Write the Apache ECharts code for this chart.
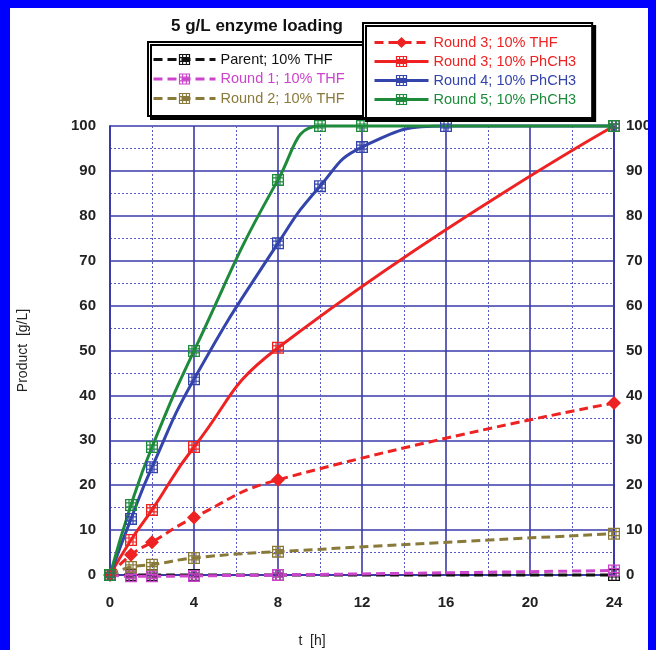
<!DOCTYPE html>
<html><head><meta charset="utf-8">
<script src="https://cdn.jsdelivr.net/npm/echarts@6/dist/echarts.min.js"></script>
<style>html,body{margin:0;padding:0;background:#fff}#c{width:656px;height:650px}</style>
</head><body><div id="c"></div>
<script>
// ---- data ----
const tShort = [0, 1, 2, 4, 8, 24];
const tRound4 = [0, 1, 2, 4, 8, 10, 12, 16, 24];
const tRound5 = [0, 1, 2, 4, 8, 10, 12, 24];
const parent = [0, 0, 0, 0, 0, 0];
const round1 = [0, -0.3, -0.3, -0.2, 0, 1];
const round2 = [0, 1.8, 2.3, 3.8, 5.2, 9.2];
const round3THF = [0, 4.5, 7.3, 12.8, 21.2, 38.3];
const round3Ph = [0, 7.8, 14.5, 28.5, 50.6, 100];
const round4 = [0, 12.5, 24, 43.6, 73.9, 86.6, 95.3, 100, 100];
const round5 = [0, 15.6, 28.5, 49.9, 88, 100, 100, 100];
const xTicks = [0, 4, 8, 12, 16, 20, 24];
const yTicks = [0, 10, 20, 30, 40, 50, 60, 70, 80, 90, 100];
const names = ['Parent; 10% THF', 'Round 1; 10% THF', 'Round 2; 10% THF',
  'Round 3; 10% THF', 'Round 3; 10% PhCH3', 'Round 4; 10% PhCH3', 'Round 5; 10% PhCH3'];
const colors = ['#111111', '#cc44cc', '#8a7a3a', '#ee2222', '#ee2222', '#3344aa', '#1e8a3c'];

const pair = (t, v) => t.map((x, i) => [x, v[i]]);
const hashSym = 'path://M0 0H12V1.3H0Z M0 10.7H12V12H0Z M0 0H1.3V12H0Z M10.7 0H12V12H10.7Z M3.4 0H4.6V12H3.4Z M7.4 0H8.6V12H7.4Z M0 3.4H12V4.6H0Z M0 7.4H12V8.6H0Z';
const FONT = 'Liberation Sans, Arial, sans-serif';

function mk(i, t, v, dashed, symbol, size) {
  return {
    name: names[i], type: 'line', data: pair(t, v), smooth: 0.5,
    symbol: symbol, symbolSize: size, showAllSymbol: true, clip: false,
    lineStyle: { color: colors[i], width: 3, type: dashed ? [9, 5] : 'solid' },
    itemStyle: { color: colors[i] },
    emphasis: { disabled: true }
  };
}

const series = [
  mk(0, tShort, parent, true, hashSym, 12),
  mk(1, tShort, round1, true, hashSym, 12),
  mk(2, tShort, round2, true, hashSym, 12),
  mk(3, tShort, round3THF, true, 'diamond', 14),
  mk(4, tShort, round3Ph, false, hashSym, 12),
  mk(5, tRound4, round4, false, hashSym, 12),
  mk(6, tRound5, round5, false, hashSym, 12)
];

const legendBase = {
  orient: 'vertical', itemHeight: 14, selectedMode: false,
  borderColor: '#000', borderWidth: 2, backgroundColor: '#fff',
  shadowColor: '#000', shadowOffsetX: 3, shadowOffsetY: 3, shadowBlur: 0,
  lineStyle: { width: 3 },
  textStyle: { fontSize: 14.5, fontFamily: FONT }
};

const chart = echarts.init(document.getElementById('c'), null, { renderer: 'canvas' });
chart.setOption({
  animation: false,
  backgroundColor: '#fff',
  title: { text: '5 g/L enzyme loading', left: 166, top: 13,
    textStyle: { fontSize: 17, fontWeight: 'bold', color: '#111', fontFamily: FONT } },
  legend: [
    Object.assign({}, legendBase, {
      left: 148, top: 42, itemWidth: 62, itemGap: 4.5, padding: [10, 60, 10, 4], z: 5,
      data: [0, 1, 2].map(i => ({ name: names[i], textStyle: { color: colors[i] } }))
    }),
    Object.assign({}, legendBase, {
      left: 363, top: 23, itemWidth: 54, itemGap: 4, padding: [12, 16, 11, 10], z: 6,
      data: [3, 4, 5, 6].map(i => ({ name: names[i], textStyle: { color: colors[i] } }))
    })
  ],
  grid: { left: 110, right: 42, top: 126, bottom: 75, containLabel: false, outerBoundsMode: 'none' },
  xAxis: {
    type: 'value', min: 0, max: 24, interval: 4,
    name: 't  [h]', nameLocation: 'middle', nameGap: 59,
    nameTextStyle: { fontSize: 14, color: '#222', fontFamily: FONT, padding: [0, 100, 0, 0] },
    axisLine: { show: true, lineStyle: { color: '#3a3aaa', width: 2 } },
    axisTick: { show: false },
    axisLabel: { margin: 20, fontSize: 15, fontWeight: 'bold', color: '#222', fontFamily: FONT,
      formatter: v => xTicks.includes(v) ? String(v) : '' },
    splitLine: { show: true, lineStyle: { color: '#3a3aaa', width: 1.6 } },
    minorTick: { show: false, splitNumber: 2 },
    minorSplitLine: { show: true, lineStyle: { color: '#5a5ac8', width: 1, type: [2, 2] } }
  },
  yAxis: [
    {
      type: 'value', min: 0, max: 100, interval: 10, position: 'left',
      name: 'Product  [g/L]', nameLocation: 'middle', nameGap: 80,
      nameTextStyle: { fontSize: 14, color: '#222', fontFamily: FONT },
      axisLine: { show: true, lineStyle: { color: '#3a3aaa', width: 2 } },
      axisTick: { show: false },
      axisLabel: { margin: 14, fontSize: 15, fontWeight: 'bold', color: '#222', fontFamily: FONT,
        formatter: v => yTicks.includes(v) ? String(v) : '' },
      splitLine: { show: true, lineStyle: { color: '#3a3aaa', width: 1.6 } },
      minorTick: { show: false, splitNumber: 2 },
      minorSplitLine: { show: true, lineStyle: { color: '#5a5ac8', width: 1, type: [2, 2] } }
    },
    {
      type: 'value', min: 0, max: 100, interval: 10, position: 'right',
      axisLine: { show: true, lineStyle: { color: '#3a3aaa', width: 2 } },
      axisTick: { show: false },
      axisLabel: { margin: 12, fontSize: 15, fontWeight: 'bold', color: '#222', fontFamily: FONT,
        formatter: v => yTicks.includes(v) ? String(v) : '' },
      splitLine: { show: false }
    }
  ],
  graphic: [
    { type: 'rect', left: 0, top: 0, shape: { width: 10, height: 650 }, style: { fill: '#0000ff' }, z: 100 },
    { type: 'rect', left: 0, top: 0, shape: { width: 656, height: 8 }, style: { fill: '#0000ff' }, z: 100 },
    { type: 'rect', left: 648, top: 0, shape: { width: 8, height: 650 }, style: { fill: '#0000ff' }, z: 100 }
  ],
  series: series
});
</script>
</body></html>
